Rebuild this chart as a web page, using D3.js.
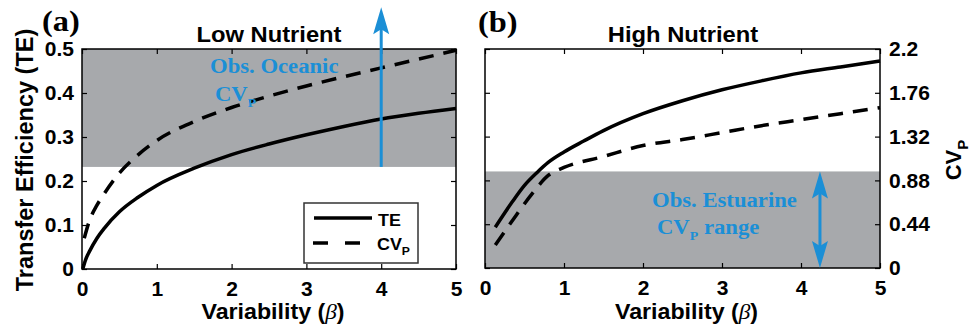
<!DOCTYPE html>
<html>
<head>
<meta charset="utf-8">
<script src="https://cdn.jsdelivr.net/npm/d3@7"></script>
<style>
  body { margin: 0; background: #fff; }
</style>
</head>
<body>
<div class="chart"></div>
<script>
// tick labels
var xTicks = [0, 1, 2, 3, 4, 5];
var yTicksA = [0, 0.1, 0.2, 0.3, 0.4, 0.5];
var yTicksB = [0, 0.44, 0.88, 1.32, 1.76, 2.2];

// (a) low nutrient
var teLowBeta = [0.01, 0.05, 0.1, 0.2, 0.3, 0.5, 0.75, 1.0, 1.5, 2.0, 2.5, 3.0, 3.5, 4.0, 4.5, 5.0];
var teLow     = [0.0, 0.022, 0.04, 0.07, 0.093, 0.13, 0.163, 0.19, 0.229, 0.26, 0.284, 0.305, 0.324, 0.341, 0.354, 0.365];
var cvLowBeta = [0.03, 0.1, 0.2, 0.3, 0.5, 0.7, 1.0, 1.5, 2.0, 2.5, 3.0, 3.5, 4.0, 4.5, 5.0];
var cvLow     = [0.07, 0.11, 0.145, 0.172, 0.218, 0.252, 0.292, 0.335, 0.367, 0.393, 0.416, 0.437, 0.457, 0.477, 0.497];

var teHighBeta = [0.13, 0.35, 0.5, 0.66, 0.8, 1.0, 1.25, 1.5, 2.0, 2.5, 3.0, 3.5, 4.0, 4.5, 5.0];
var teHigh     = [0.41, 0.67, 0.83, 0.96, 1.06, 1.165, 1.275, 1.38, 1.55, 1.68, 1.79, 1.88, 1.96, 2.02, 2.08];
var cvHighBeta = [0.13, 0.35, 0.6, 0.8, 1.0, 1.5, 2.0, 2.5, 3.0, 3.5, 4.0, 4.5, 5.0];
var cvHigh     = [0.23, 0.48, 0.75, 0.93, 1.01, 1.12, 1.23, 1.29, 1.36, 1.43, 1.49, 1.55, 1.61];

// observed ranges and arrows
var oceanicBand = [0.232, 0.5];
var oceanicArrow = { beta: 4, from: 0.232, to: 0.595 };
var estuarineBand = [0, 0.97];
var estuarineArrow = { beta: 4.24, from: 0, to: 0.97 };

var SANS = "'Liberation Sans', Arial, sans-serif";
var SERIF = "'Liberation Serif', 'Times New Roman', serif";
var BLUE = "#1b8fd6";
var GRAY = "#a7a9ac";
var SX = 1.08; // the reference text is a little wide

var svg = d3.select(".chart")
  .append("svg")
  .attr("width", 978)
  .attr("height", 329);

function label(x, y, size, opts) {
  opts = opts || {};
  return svg.append("text")
    .attr("transform", `translate(${x},${y}) scale(${opts.sx || SX},1)`)
    .attr("text-anchor", opts.anchor || "middle")
    .style("font-family", opts.family || SANS)
    .style("font-weight", "bold")
    .style("font-size", size + "px")
    .style("fill", opts.fill || "#000");
}

function sub(t, main, s, size, after) {
  t.append("tspan").text(main);
  t.append("tspan").attr("dy", size * 0.3).style("font-size", (size * 0.68) + "px").text(s);
  if (after) t.append("tspan").attr("dy", -size * 0.3).text(after);
}

function zip(xs, ys) { return xs.map((x, i) => [x, ys[i]]); }

function styleAxis(g) {
  g.select(".domain").remove();
  g.selectAll("line").attr("stroke", "#000").attr("stroke-width", 1.2);
  g.selectAll("text")
    .style("font-family", SANS)
    .style("font-weight", "bold")
    .style("font-size", "21px")
    .attr("fill", "#000");
}

function arrowHead(x, y, dir) {
  // dir = -1 points up, +1 points down
  var L = 27, W = 8, n = 5;
  return `M${x},${y} L${x + W},${y - dir * L} L${x},${y - dir * (L - n)} L${x - W},${y - dir * L} Z`;
}

function panel(p) {
  var x = d3.scaleLinear().domain([0, 5]).range([p.left, p.right]);
  var y = d3.scaleLinear().domain(p.yDomain).range([p.bottom, p.top]);
  var g = svg.append("g");

  // observed band
  g.append("rect")
    .attr("x", x(0))
    .attr("y", y(p.band[1]))
    .attr("width", x(5) - x(0))
    .attr("height", y(p.band[0]) - y(p.band[1]))
    .attr("fill", GRAY);

  // axes (ticks point inwards)
  var bottom = g.append("g").attr("transform", `translate(0,${p.bottom})`)
    .call(d3.axisBottom(x).tickValues(xTicks).tickSize(-5).tickPadding(12).tickFormat(d3.format("d")));
  styleAxis(bottom);
  var top = g.append("g").attr("transform", `translate(0,${p.top})`)
    .call(d3.axisTop(x).tickValues(xTicks).tickSize(-5).tickFormat(""));
  styleAxis(top);
  var left = g.append("g").attr("transform", `translate(${p.left},0)`)
    .call(d3.axisLeft(y).tickValues(p.yTicks).tickSize(-5).tickPadding(8)
      .tickFormat(p.labelSide === "left" ? (d => d3.format("")(+d.toFixed(2))) : ""));
  styleAxis(left);
  var right = g.append("g").attr("transform", `translate(${p.right},0)`)
    .call(d3.axisRight(y).tickValues(p.yTicks).tickSize(-5).tickPadding(9)
      .tickFormat(p.labelSide === "right" ? (d => d3.format("")(+d.toFixed(2))) : ""));
  styleAxis(right);

  // curves
  var line = d3.line().x(d => x(d[0])).y(d => y(d[1])).curve(d3.curveMonotoneX);
  g.append("path").datum(zip(p.teBeta, p.te))
    .attr("d", line).attr("fill", "none").attr("stroke", "#000").attr("stroke-width", 3.5);
  g.append("path").datum(zip(p.cvBeta, p.cv))
    .attr("d", line).attr("fill", "none").attr("stroke", "#000").attr("stroke-width", 3.5)
    .attr("stroke-dasharray", "15,10");

  // frame
  g.append("rect")
    .attr("x", p.left).attr("y", p.top)
    .attr("width", p.right - p.left).attr("height", p.bottom - p.top)
    .attr("fill", "none").attr("stroke", "#000").attr("stroke-width", 1.5);

  // blue arrow
  var ax = x(p.arrow.beta);
  var yTip = y(p.arrow.to), yBase = y(p.arrow.from);
  g.append("line")
    .attr("x1", ax).attr("x2", ax)
    .attr("y1", yBase - (p.doubleArrow ? 20 : 0)).attr("y2", yTip + 20)
    .attr("stroke", BLUE).attr("stroke-width", 3);
  g.append("path").attr("d", arrowHead(ax, yTip, -1)).attr("fill", BLUE);
  if (p.doubleArrow) g.append("path").attr("d", arrowHead(ax, yBase, 1)).attr("fill", BLUE);

  return { x: x, y: y };
}

var a = panel({
  left: 82, right: 456, top: 49, bottom: 269,
  yDomain: [0, 0.5], yTicks: yTicksA, labelSide: "left",
  band: oceanicBand, arrow: oceanicArrow, doubleArrow: false,
  teBeta: teLowBeta, te: teLow, cvBeta: cvLowBeta, cv: cvLow
});

var b = panel({
  left: 485, right: 880, top: 49, bottom: 268,
  yDomain: [0, 2.2], yTicks: yTicksB, labelSide: "right",
  band: estuarineBand, arrow: estuarineArrow, doubleArrow: true,
  teBeta: teHighBeta, te: teHigh, cvBeta: cvHighBeta, cv: cvHigh
});

// legend in (a)
svg.append("rect")
  .attr("x", 304).attr("y", 203).attr("width", 114).attr("height", 60)
  .attr("fill", "#fff").attr("stroke", "#333").attr("stroke-width", 1.5);
svg.append("line").attr("x1", 314).attr("x2", 372).attr("y1", 218).attr("y2", 218)
  .attr("stroke", "#000").attr("stroke-width", 3.5);
svg.append("line").attr("x1", 313).attr("x2", 361).attr("y1", 243).attr("y2", 243)
  .attr("stroke", "#000").attr("stroke-width", 3.5).attr("stroke-dasharray", "15,17");
label(378, 226, 16, { anchor: "start", sx: 1.12 }).text("TE");
sub(label(377, 250, 16, { anchor: "start", sx: 1.12 }), "CV", "P", 16);

// titles and panel letters
label(269, 42, 22).text("Low Nutrient");
label(683, 42, 22).text("High Nutrient");
label(42, 31, 30, { anchor: "start", family: SERIF }).text("(a)");
label(478, 32, 30, { anchor: "start", family: SERIF }).text("(b)");

// x axis titles
[a, b].forEach(function(p) {
  var t = label((p.x(0) + p.x(5)) / 2 + 4, 319, 21.5);
  t.append("tspan").text("Variability (");
  t.append("tspan").style("font-family", SERIF).style("font-style", "italic")
    .style("font-weight", "normal").text("β");
  t.append("tspan").text(")");
});

// y axis titles
svg.append("text")
  .attr("transform", "translate(33,160) rotate(-90)")
  .attr("text-anchor", "middle")
  .style("font-family", SANS).style("font-weight", "bold").style("font-size", "23.5px")
  .text("Transfer Efficiency (TE)");
var cvt = svg.append("text")
  .attr("transform", "translate(961,160) rotate(-90)")
  .attr("text-anchor", "middle")
  .style("font-family", SANS).style("font-weight", "bold").style("font-size", "22px");
sub(cvt, "CV", "P", 22);

// blue annotations
label(210, 73, 21, { anchor: "start", family: SERIF, fill: BLUE }).text("Obs. Oceanic");
sub(label(215, 101, 21, { anchor: "start", family: SERIF, fill: BLUE }), "CV", "P", 19);
label(652, 207, 21, { anchor: "start", family: SERIF, fill: BLUE }).text("Obs. Estuarine");
sub(label(657, 234, 21, { anchor: "start", family: SERIF, fill: BLUE }), "CV", "P", 19, " range");
</script>
</body>
</html>
